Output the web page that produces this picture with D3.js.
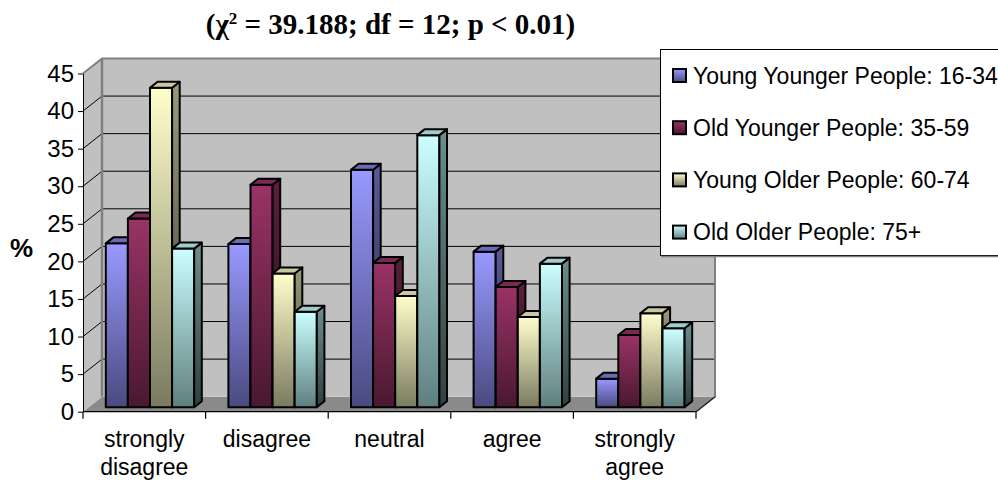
<!DOCTYPE html>
<html>
<head>
<meta charset="utf-8">
<script src="https://cdn.jsdelivr.net/npm/d3@7"></script>
<style>
  html, body { margin: 0; padding: 0; background: #fff; }
  svg { display: block; }
</style>
</head>
<body>
<svg id="chart" width="998" height="482"></svg>
<script>
// Survey responses by age group (%)
const categories = ["strongly disagree", "disagree", "neutral", "agree", "strongly agree"];
const seriesNames = [
  "Young Younger People: 16-34",
  "Old Younger People: 35-59",
  "Young Older People: 60-74",
  "Old Older People: 75+"
];
const youngYounger = [21.8, 21.7, 31.6, 20.7, 3.8];
const oldYounger   = [25.1, 29.6, 19.2, 16.0, 9.6];
const youngOlder   = [42.5, 17.8, 14.8, 12.0, 12.5];
const oldOlder     = [21.1, 12.7, 36.2, 19.1, 10.5];
const yTicks = [0, 5, 10, 15, 20, 25, 30, 35, 40, 45];

const seriesValues = [youngYounger, oldYounger, youngOlder, oldOlder];
// face colours: [light top, dark bottom]
const palette = [
  { front: ["#9999ff", "#4a4a80"], side: ["#5a5a99", "#26264a"], top: "#6b6bb3" },
  { front: ["#993366", "#4a1830"], side: ["#5c1f3d", "#260c19"], top: "#7a2952" },
  { front: ["#ffffcc", "#7a7a60"], side: ["#9a9a7a", "#3d3d30"], top: "#c9c9a0" },
  { front: ["#ccffff", "#5f7f7f"], side: ["#6b8f8f", "#2e4040"], top: "#9fcccc" }
];

const svg = d3.select("#chart");
const FONT = "'Liberation Sans', Arial, sans-serif";

// 3D frame geometry
const frameLeft = 83, frameRight = 696, frameBase = 411.7, frameTop = 73.5;
const depth = { dx: 19, dy: -15 };
const barFront = 0.3, barDepth = 0.4;

const y = d3.scaleLinear().domain([0, 45]).range([frameBase, frameTop]);
const x0 = d3.scaleBand().domain(categories).range([frameLeft, frameRight]);
const groupWidth = 88.4;
const x1 = d3.scaleBand().domain(seriesNames).range([0, groupWidth]);

const defs = svg.append("defs");
palette.forEach((p, i) => {
  ["front", "side"].forEach(face => {
    const g = defs.append("linearGradient")
      .attr("id", `g-${face}-${i}`)
      .attr("x1", 0).attr("y1", 0).attr("x2", 0).attr("y2", 1);
    g.append("stop").attr("offset", 0).attr("stop-color", p[face][0]);
    g.append("stop").attr("offset", 1).attr("stop-color", p[face][1]);
  });
});

// walls and floor
const wall = svg.append("g");
wall.append("polygon") // floor
  .attr("points", [[frameLeft, frameBase], [frameRight, frameBase], [frameRight + depth.dx, frameBase + depth.dy], [frameLeft + depth.dx, frameBase + depth.dy]].join(" "))
  .attr("fill", "#8a8a8a");
wall.append("polygon") // side wall
  .attr("points", [[frameLeft, frameBase], [frameLeft, frameTop], [frameLeft + depth.dx, frameTop + depth.dy], [frameLeft + depth.dx, frameBase + depth.dy]].join(" "))
  .attr("fill", "#c0c0c0");
wall.append("rect") // back wall
  .attr("x", frameLeft + depth.dx).attr("y", frameTop + depth.dy)
  .attr("width", frameRight - frameLeft).attr("height", frameBase - frameTop)
  .attr("fill", "#c0c0c0");

// gridlines on back and side walls
const gridVals = yTicks.filter(v => v > 0 && v < 45);
wall.selectAll(".gb").data(gridVals).join("line")
  .attr("x1", frameLeft + depth.dx).attr("x2", frameRight + depth.dx)
  .attr("y1", d => y(d) + depth.dy).attr("y2", d => y(d) + depth.dy)
  .attr("stroke", "#000").attr("stroke-width", 1);
wall.selectAll(".gs").data(gridVals).join("line")
  .attr("x1", frameLeft).attr("x2", frameLeft + depth.dx)
  .attr("y1", d => y(d)).attr("y2", d => y(d) + depth.dy)
  .attr("stroke", "#000").attr("stroke-width", 1);

// wall borders
wall.append("polyline")
  .attr("points", [[frameLeft, frameTop], [frameLeft + depth.dx, frameTop + depth.dy], [frameRight + depth.dx, frameTop + depth.dy], [frameRight + depth.dx, frameBase + depth.dy], [frameRight, frameBase]].join(" "))
  .attr("fill", "none").attr("stroke", "#808080").attr("stroke-width", 2);
wall.append("line")
  .attr("x1", frameLeft + depth.dx).attr("x2", frameLeft + depth.dx)
  .attr("y1", frameTop + depth.dy).attr("y2", frameBase + depth.dy)
  .attr("stroke", "#808080").attr("stroke-width", 2.5);

// bars
const bdx = depth.dx * barFront, bdy = depth.dy * barFront;
const ddx = depth.dx * barDepth, ddy = depth.dy * barDepth;
const pad = (x0.bandwidth() - groupWidth) / 2;
const barG = svg.append("g")
  .attr("stroke", "#000").attr("stroke-width", 2).attr("stroke-linejoin", "round");

categories.forEach((c, ci) => {
  seriesNames.forEach((s, si) => {
    const v = seriesValues[si][ci];
    const xl = x0(c) + pad + x1(s) + bdx;
    const xr = xl + x1.bandwidth();
    const yt = y(v) + bdy;
    const yb = frameBase + bdy;
    const g = barG.append("g");
    g.append("rect")
      .attr("x", xl).attr("y", yt).attr("width", xr - xl).attr("height", yb - yt)
      .attr("fill", `url(#g-front-${si})`);
    g.append("polygon")
      .attr("points", [[xr, yb], [xr, yt], [xr + ddx, yt + ddy], [xr + ddx, yb + ddy]].join(" "))
      .attr("fill", `url(#g-side-${si})`);
    g.append("polygon")
      .attr("points", [[xl, yt], [xr, yt], [xr + ddx, yt + ddy], [xl + ddx, yt + ddy]].join(" "))
      .attr("fill", palette[si].top);
  });
});

// value axis
const yAxis = svg.append("g")
  .attr("transform", `translate(${frameLeft},0)`)
  .call(d3.axisLeft(y).tickValues(yTicks).tickSize(5).tickSizeOuter(0).tickPadding(4));
yAxis.select(".domain").attr("stroke", "#000");
yAxis.selectAll(".tick line").attr("stroke", "#000");
yAxis.selectAll("text")
  .attr("font-family", FONT).attr("font-size", 24).attr("fill", "#000");

// category axis
const cat = svg.append("g");
cat.append("line")
  .attr("x1", frameLeft).attr("x2", frameRight).attr("y1", frameBase).attr("y2", frameBase)
  .attr("stroke", "#000").attr("stroke-width", 1.2);
const bounds = categories.map(c => x0(c)).concat([frameRight]);
cat.selectAll(".ct").data(bounds).join("line")
  .attr("x1", d => d).attr("x2", d => d)
  .attr("y1", frameBase).attr("y2", frameBase + 7)
  .attr("stroke", "#000").attr("stroke-width", 1.2);
cat.append("line")
  .attr("x1", frameRight).attr("x2", frameRight + depth.dx)
  .attr("y1", frameBase).attr("y2", frameBase + depth.dy)
  .attr("stroke", "#000").attr("stroke-width", 1);
cat.selectAll(".cl").data(categories).join("text")
  .attr("font-family", FONT).attr("font-size", 23).attr("fill", "#000")
  .attr("text-anchor", "middle")
  .each(function (d) {
    const words = d.split(" ");
    const t = d3.select(this);
    words.forEach((w, i) => {
      t.append("tspan")
        .attr("x", x0(d) + x0.bandwidth() / 2)
        .attr("y", 446.5 + i * 28.5)
        .text(w);
    });
  });

// axis title
svg.append("text")
  .attr("x", 21.5).attr("y", 257)
  .attr("text-anchor", "middle")
  .attr("font-family", FONT).attr("font-size", 26).attr("font-weight", "bold")
  .text("%");

// chart title
const title = svg.append("text")
  .attr("x", 390.5).attr("y", 34)
  .attr("text-anchor", "middle")
  .attr("font-family", "'Liberation Serif', 'Times New Roman', serif")
  .attr("font-size", 29).attr("font-weight", "bold");
title.append("tspan").text("(χ");
title.append("tspan").attr("font-size", 17).attr("dy", -10).text("2");
title.append("tspan").attr("dy", 10).text(" = 39.188; df = 12; p < 0.01)");

// legend
const legend = svg.append("g");
legend.append("rect")
  .attr("x", 660.5).attr("y", 49.5).attr("width", 360).attr("height", 206)
  .attr("fill", "#fff").attr("stroke", "#000").attr("stroke-width", 1);
legend.append("line")
  .attr("x1", 661).attr("x2", 998).attr("y1", 256.5).attr("y2", 256.5)
  .attr("stroke", "#808080").attr("stroke-width", 1.5);
const items = legend.selectAll(".li").data(seriesNames).join("g")
  .attr("transform", (d, i) => `translate(0,${75.5 + i * 52.2})`);
items.append("rect")
  .attr("x", 673).attr("y", -6.5).attr("width", 13).attr("height", 13)
  .attr("fill", (d, i) => `url(#g-front-${i})`)
  .attr("stroke", "#000").attr("stroke-width", 2);
items.append("text")
  .attr("x", 693).attr("y", 8)
  .attr("font-family", FONT).attr("font-size", 23).attr("fill", "#000")
  .text(d => d);
</script>
</body>
</html>
